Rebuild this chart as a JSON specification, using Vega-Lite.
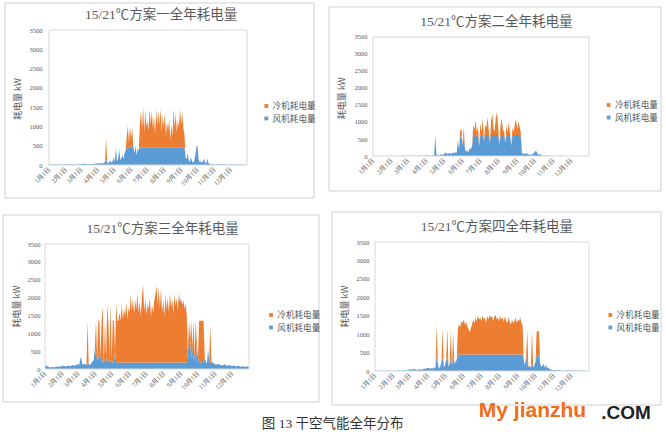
{
"$schema": "https://vega.github.io/schema/vega-lite/v6.json",
"background": "white",
"padding": {"left": 2, "top": 2, "right": 0, "bottom": 0},
"datasets": {
"p1": [{"d":1,"f":10,"c":0},{"d":8,"f":15,"c":0},{"d":15,"f":10,"c":0},{"d":22,"f":12,"c":0},{"d":29,"f":15,"c":0},{"d":36,"f":18,"c":0},{"d":43,"f":12,"c":0},{"d":50,"f":15,"c":0},{"d":57,"f":20,"c":0},{"d":64,"f":30,"c":0},{"d":71,"f":25,"c":0},{"d":78,"f":20,"c":0},{"d":85,"f":30,"c":0},{"d":92,"f":45,"c":0},{"d":96,"f":40,"c":0},
{"d":100,"f":60,"c":0},{"d":102,"f":40,"c":0},{"d":104,"f":90,"c":0},{"d":106,"f":150,"c":550},{"d":108,"f":60,"c":0},{"d":110,"f":50,"c":0},{"d":112,"f":80,"c":0},{"d":114,"f":120,"c":0},{"d":116,"f":60,"c":0},{"d":118,"f":100,"c":0},{"d":120,"f":200,"c":0},{"d":122,"f":80,"c":0},{"d":124,"f":450,"c":0},{"d":126,"f":100,"c":0},{"d":128,"f":150,"c":0},{"d":130,"f":420,"c":0},{"d":132,"f":120,"c":0},{"d":134,"f":180,"c":0},{"d":136,"f":250,"c":0},{"d":138,"f":150,"c":0},{"d":140,"f":300,"c":0},{"d":142,"f":380,"c":0},{"d":144,"f":450,"c":300},{"d":146,"f":420,"c":600},{"d":148,"f":480,"c":100},{"d":150,"f":500,"c":500},{"d":152,"f":450,"c":250},{"d":154,"f":500,"c":450},{"d":156,"f":480,"c":0},{"d":158,"f":300,"c":0},{"d":160,"f":500,"c":0},{"d":162,"f":250,"c":0},{"d":164,"f":420,"c":0},{"d":166,"f":380,"c":0},
{"d":168,"f":450,"c":600},{"d":170,"f":450,"c":930},{"d":172,"f":450,"c":500},{"d":174,"f":450,"c":1050},{"d":176,"f":450,"c":400},{"d":178,"f":450,"c":950},{"d":180,"f":450,"c":550},{"d":182,"f":450,"c":700},{"d":184,"f":450,"c":450},{"d":186,"f":450,"c":1000},{"d":188,"f":450,"c":600},{"d":190,"f":450,"c":950},{"d":192,"f":450,"c":500},{"d":194,"f":450,"c":800},{"d":196,"f":450,"c":350},{"d":198,"f":450,"c":1000},{"d":200,"f":450,"c":550},{"d":202,"f":450,"c":950},{"d":204,"f":450,"c":600},{"d":206,"f":450,"c":1000},{"d":208,"f":450,"c":400},{"d":210,"f":450,"c":850},{"d":212,"f":450,"c":500},{"d":214,"f":450,"c":900},{"d":216,"f":450,"c":300},{"d":218,"f":450,"c":650},{"d":220,"f":450,"c":450},{"d":222,"f":450,"c":750},{"d":224,"f":450,"c":200},{"d":226,"f":450,"c":600},{"d":228,"f":450,"c":300},{"d":230,"f":450,"c":1000},{"d":232,"f":450,"c":500},{"d":234,"f":450,"c":900},{"d":236,"f":450,"c":400},{"d":238,"f":450,"c":700},{"d":240,"f":450,"c":550},{"d":242,"f":450,"c":1000},{"d":244,"f":450,"c":600},{"d":246,"f":450,"c":900},{"d":248,"f":450,"c":500},{"d":250,"f":450,"c":350},
{"d":252,"f":200,"c":0},{"d":254,"f":150,"c":0},{"d":256,"f":300,"c":0},{"d":258,"f":120,"c":0},{"d":260,"f":80,"c":0},{"d":262,"f":200,"c":0},{"d":264,"f":100,"c":0},{"d":266,"f":60,"c":0},{"d":268,"f":120,"c":0},{"d":270,"f":250,"c":0},{"d":272,"f":480,"c":20},{"d":274,"f":460,"c":30},{"d":276,"f":150,"c":0},{"d":278,"f":80,"c":0},{"d":280,"f":100,"c":0},{"d":282,"f":60,"c":0},{"d":284,"f":90,"c":0},{"d":286,"f":170,"c":0},{"d":288,"f":60,"c":0},{"d":290,"f":40,"c":0},{"d":292,"f":170,"c":0},{"d":294,"f":50,"c":0},{"d":296,"f":30,"c":0},{"d":298,"f":20,"c":0},{"d":305,"f":15,"c":0},{"d":312,"f":20,"c":0},{"d":319,"f":15,"c":0},{"d":326,"f":12,"c":0},{"d":333,"f":15,"c":0},{"d":340,"f":10,"c":0},{"d":347,"f":12,"c":0},{"d":354,"f":10,"c":0},{"d":361,"f":8,"c":0},{"d":365,"f":5,"c":0}],
"p2": [{"d":1,"f":5,"c":0},{"d":8,"f":3,"c":0},{"d":15,"f":5,"c":0},{"d":22,"f":3,"c":0},{"d":29,"f":5,"c":0},{"d":36,"f":5,"c":0},{"d":43,"f":3,"c":0},{"d":50,"f":5,"c":0},{"d":57,"f":5,"c":0},{"d":64,"f":8,"c":0},{"d":71,"f":10,"c":0},{"d":78,"f":8,"c":0},{"d":85,"f":10,"c":0},{"d":92,"f":15,"c":0},{"d":98,"f":10,"c":0},
{"d":100,"f":10,"c":0},{"d":102,"f":20,"c":0},{"d":104,"f":15,"c":0},{"d":106,"f":600,"c":0},{"d":108,"f":20,"c":0},{"d":110,"f":30,"c":0},{"d":112,"f":15,"c":0},{"d":114,"f":40,"c":0},{"d":116,"f":60,"c":0},{"d":118,"f":30,"c":0},{"d":120,"f":50,"c":0},{"d":122,"f":80,"c":0},{"d":124,"f":100,"c":0},{"d":126,"f":50,"c":0},{"d":128,"f":70,"c":0},{"d":130,"f":90,"c":0},{"d":132,"f":60,"c":0},{"d":134,"f":80,"c":0},{"d":136,"f":100,"c":0},{"d":138,"f":70,"c":0},{"d":140,"f":120,"c":0},{"d":142,"f":90,"c":0},{"d":144,"f":450,"c":0},{"d":146,"f":200,"c":0},{"d":148,"f":550,"c":200},{"d":150,"f":600,"c":200},{"d":152,"f":300,"c":0},{"d":154,"f":600,"c":250},{"d":156,"f":200,"c":0},{"d":158,"f":120,"c":0},{"d":160,"f":180,"c":0},{"d":162,"f":100,"c":0},{"d":164,"f":250,"c":0},{"d":166,"f":200,"c":0},{"d":168,"f":300,"c":0},
{"d":170,"f":620,"c":300},{"d":172,"f":620,"c":150},{"d":174,"f":620,"c":430},{"d":176,"f":600,"c":100},{"d":178,"f":620,"c":250},{"d":180,"f":300,"c":0},{"d":182,"f":620,"c":350},{"d":184,"f":620,"c":100},{"d":186,"f":620,"c":480},{"d":188,"f":450,"c":0},{"d":190,"f":620,"c":300},{"d":192,"f":620,"c":200},{"d":194,"f":620,"c":530},{"d":196,"f":620,"c":150},{"d":198,"f":400,"c":0},{"d":200,"f":620,"c":400},{"d":202,"f":620,"c":630},{"d":204,"f":620,"c":200},{"d":206,"f":620,"c":100},{"d":208,"f":620,"c":500},{"d":210,"f":620,"c":680},{"d":212,"f":620,"c":200},{"d":214,"f":350,"c":0},{"d":216,"f":620,"c":300},{"d":218,"f":620,"c":480},{"d":220,"f":620,"c":150},{"d":222,"f":620,"c":100},{"d":224,"f":400,"c":0},{"d":226,"f":620,"c":280},{"d":228,"f":620,"c":100},{"d":230,"f":620,"c":380},{"d":232,"f":620,"c":50},{"d":234,"f":300,"c":0},{"d":236,"f":620,"c":200},{"d":238,"f":620,"c":100},{"d":240,"f":620,"c":300},{"d":242,"f":620,"c":480},{"d":244,"f":620,"c":150},{"d":246,"f":620,"c":380},{"d":248,"f":620,"c":250},{"d":250,"f":600,"c":100},
{"d":252,"f":100,"c":0},{"d":254,"f":60,"c":0},{"d":256,"f":80,"c":0},{"d":258,"f":50,"c":0},{"d":260,"f":90,"c":0},{"d":262,"f":60,"c":0},{"d":264,"f":40,"c":0},{"d":266,"f":50,"c":0},{"d":268,"f":30,"c":0},{"d":270,"f":60,"c":0},{"d":272,"f":80,"c":0},{"d":274,"f":140,"c":0},{"d":276,"f":150,"c":0},{"d":278,"f":70,"c":0},{"d":280,"f":40,"c":0},{"d":282,"f":60,"c":0},{"d":284,"f":30,"c":0},{"d":286,"f":20,"c":0},{"d":288,"f":10,"c":0},{"d":295,"f":5,"c":0},{"d":302,"f":5,"c":0},{"d":309,"f":3,"c":0},{"d":316,"f":5,"c":0},{"d":323,"f":3,"c":0},{"d":330,"f":3,"c":0},{"d":337,"f":3,"c":0},{"d":344,"f":3,"c":0},{"d":351,"f":3,"c":0},{"d":358,"f":3,"c":0},{"d":365,"f":3,"c":0}],
"p3": [{"d":1,"f":70,"c":0},{"d":4,"f":100,"c":0},{"d":7,"f":60,"c":0},{"d":10,"f":40,"c":0},{"d":14,"f":55,"c":0},{"d":18,"f":50,"c":0},{"d":22,"f":70,"c":0},{"d":26,"f":60,"c":0},{"d":30,"f":80,"c":0},{"d":34,"f":90,"c":0},{"d":38,"f":70,"c":0},{"d":42,"f":100,"c":0},{"d":46,"f":80,"c":0},{"d":50,"f":110,"c":0},{"d":54,"f":90,"c":0},{"d":58,"f":130,"c":0},{"d":62,"f":120,"c":0},{"d":65,"f":350,"c":0},{"d":68,"f":120,"c":0},{"d":72,"f":150,"c":0},{"d":75,"f":110,"c":0},{"d":77,"f":150,"c":1190},{"d":79,"f":130,"c":0},{"d":82,"f":120,"c":0},{"d":85,"f":200,"c":0},{"d":88,"f":250,"c":0},
{"d":90,"f":600,"c":0},{"d":92,"f":400,"c":950},{"d":94,"f":300,"c":0},{"d":96,"f":250,"c":1100},{"d":98,"f":500,"c":850},{"d":100,"f":350,"c":0},{"d":102,"f":200,"c":1150},{"d":104,"f":250,"c":1500},{"d":106,"f":180,"c":0},{"d":108,"f":200,"c":1150},{"d":110,"f":300,"c":0},{"d":112,"f":200,"c":1600},{"d":114,"f":180,"c":1170},{"d":116,"f":400,"c":0},{"d":118,"f":180,"c":1650},{"d":120,"f":250,"c":0},{"d":122,"f":180,"c":1170},{"d":124,"f":180,"c":1170},{"d":126,"f":500,"c":0},{"d":128,"f":180,"c":1650},{"d":130,"f":180,"c":1170},
{"d":132,"f":180,"c":1170},{"d":134,"f":180,"c":1400},{"d":136,"f":180,"c":1170},{"d":138,"f":180,"c":1650},{"d":140,"f":180,"c":1200},{"d":142,"f":180,"c":1500},{"d":144,"f":180,"c":1300},{"d":146,"f":180,"c":1700},{"d":148,"f":180,"c":1200},{"d":150,"f":180,"c":1550},{"d":152,"f":180,"c":1400},{"d":154,"f":180,"c":1900},{"d":156,"f":180,"c":1450},{"d":158,"f":180,"c":1800},{"d":160,"f":180,"c":1350},{"d":162,"f":180,"c":1750},{"d":164,"f":180,"c":1500},{"d":166,"f":180,"c":1950},{"d":168,"f":180,"c":1400},{"d":170,"f":180,"c":1700},{"d":172,"f":180,"c":1300},{"d":174,"f":180,"c":1850},{"d":176,"f":180,"c":2200},{"d":178,"f":180,"c":1450},{"d":180,"f":180,"c":1750},{"d":182,"f":180,"c":1350},{"d":184,"f":180,"c":1650},{"d":186,"f":180,"c":1500},{"d":188,"f":180,"c":1800},{"d":190,"f":180,"c":1300},{"d":192,"f":180,"c":1600},{"d":194,"f":180,"c":1400},{"d":196,"f":180,"c":1750},{"d":198,"f":180,"c":1900},{"d":200,"f":180,"c":2150},{"d":202,"f":180,"c":1600},{"d":204,"f":180,"c":2100},{"d":206,"f":180,"c":1500},{"d":208,"f":180,"c":2100},{"d":210,"f":180,"c":1400},{"d":212,"f":180,"c":1750},{"d":214,"f":180,"c":1300},{"d":216,"f":180,"c":1900},{"d":218,"f":180,"c":1500},{"d":220,"f":180,"c":1800},{"d":222,"f":180,"c":1400},{"d":224,"f":180,"c":1950},{"d":226,"f":180,"c":1550},{"d":228,"f":180,"c":1800},{"d":230,"f":180,"c":1350},{"d":232,"f":180,"c":1900},{"d":234,"f":180,"c":1600},{"d":236,"f":180,"c":1800},{"d":238,"f":180,"c":1450},{"d":240,"f":180,"c":1950},{"d":242,"f":180,"c":1700},{"d":244,"f":180,"c":1800},{"d":246,"f":180,"c":1600},{"d":248,"f":180,"c":1750},{"d":250,"f":180,"c":1500},{"d":252,"f":180,"c":1650},{"d":254,"f":180,"c":1300},
{"d":256,"f":500,"c":0},{"d":258,"f":700,"c":650},{"d":260,"f":800,"c":0},{"d":262,"f":300,"c":1050},{"d":264,"f":600,"c":0},{"d":266,"f":250,"c":1100},{"d":268,"f":400,"c":0},{"d":270,"f":200,"c":1150},{"d":272,"f":700,"c":0},{"d":274,"f":300,"c":0},{"d":276,"f":200,"c":1150},{"d":278,"f":180,"c":1170},{"d":280,"f":180,"c":1170},{"d":282,"f":200,"c":1150},{"d":284,"f":180,"c":1170},{"d":286,"f":300,"c":0},{"d":288,"f":200,"c":0},{"d":290,"f":150,"c":0},{"d":292,"f":550,"c":0},{"d":294,"f":200,"c":0},{"d":296,"f":150,"c":1100},{"d":298,"f":200,"c":0},{"d":300,"f":180,"c":0},{"d":303,"f":150,"c":0},{"d":306,"f":120,"c":0},{"d":310,"f":140,"c":0},{"d":314,"f":110,"c":0},{"d":318,"f":100,"c":0},{"d":322,"f":130,"c":0},{"d":326,"f":90,"c":0},{"d":330,"f":110,"c":0},{"d":334,"f":80,"c":0},{"d":338,"f":100,"c":0},{"d":342,"f":70,"c":0},{"d":346,"f":90,"c":0},{"d":350,"f":60,"c":0},{"d":354,"f":80,"c":0},{"d":358,"f":60,"c":0},{"d":362,"f":70,"c":0},{"d":365,"f":60,"c":0}],
"p4": [{"d":1,"f":5,"c":0},{"d":8,"f":8,"c":0},{"d":15,"f":5,"c":0},{"d":22,"f":10,"c":0},{"d":29,"f":8,"c":0},{"d":36,"f":10,"c":0},{"d":43,"f":12,"c":0},{"d":50,"f":15,"c":0},{"d":57,"f":30,"c":0},{"d":61,"f":50,"c":0},{"d":64,"f":40,"c":0},{"d":68,"f":55,"c":0},{"d":72,"f":30,"c":0},{"d":76,"f":45,"c":0},{"d":80,"f":35,"c":0},{"d":84,"f":60,"c":0},{"d":88,"f":70,"c":0},{"d":92,"f":90,"c":0},{"d":95,"f":60,"c":0},{"d":98,"f":80,"c":0},
{"d":100,"f":60,"c":0},{"d":102,"f":100,"c":0},{"d":104,"f":80,"c":0},{"d":106,"f":420,"c":850},{"d":108,"f":200,"c":0},{"d":110,"f":60,"c":0},{"d":112,"f":120,"c":0},{"d":114,"f":250,"c":0},{"d":116,"f":350,"c":800},{"d":118,"f":100,"c":0},{"d":120,"f":150,"c":0},{"d":122,"f":300,"c":0},{"d":124,"f":380,"c":770},{"d":126,"f":120,"c":0},{"d":128,"f":200,"c":0},{"d":130,"f":350,"c":750},{"d":132,"f":150,"c":0},{"d":134,"f":400,"c":650},{"d":136,"f":200,"c":0},{"d":138,"f":250,"c":0},{"d":140,"f":300,"c":0},
{"d":142,"f":450,"c":700},{"d":144,"f":450,"c":800},{"d":146,"f":450,"c":750},{"d":148,"f":450,"c":900},{"d":150,"f":450,"c":850},{"d":152,"f":450,"c":950},{"d":154,"f":450,"c":800},{"d":156,"f":450,"c":900},{"d":158,"f":450,"c":750},{"d":160,"f":450,"c":700},{"d":162,"f":450,"c":600},{"d":164,"f":450,"c":700},{"d":166,"f":450,"c":800},{"d":168,"f":450,"c":950},{"d":170,"f":450,"c":850},{"d":172,"f":450,"c":1000},{"d":174,"f":450,"c":900},{"d":176,"f":450,"c":1050},{"d":178,"f":450,"c":950},{"d":180,"f":450,"c":1000},{"d":182,"f":450,"c":900},{"d":184,"f":450,"c":1050},{"d":186,"f":450,"c":950},{"d":188,"f":450,"c":1000},{"d":190,"f":450,"c":850},{"d":192,"f":450,"c":1050},{"d":194,"f":450,"c":950},{"d":196,"f":450,"c":1070},{"d":198,"f":450,"c":1000},{"d":200,"f":450,"c":1050},{"d":202,"f":450,"c":900},{"d":204,"f":450,"c":1000},{"d":206,"f":450,"c":1080},{"d":208,"f":450,"c":950},{"d":210,"f":450,"c":1000},{"d":212,"f":450,"c":900},{"d":214,"f":450,"c":1050},{"d":216,"f":450,"c":950},{"d":218,"f":450,"c":1000},{"d":220,"f":450,"c":880},{"d":222,"f":450,"c":1050},{"d":224,"f":450,"c":900},{"d":226,"f":450,"c":850},{"d":228,"f":450,"c":1000},{"d":230,"f":450,"c":900},{"d":232,"f":450,"c":800},{"d":234,"f":450,"c":950},{"d":236,"f":450,"c":850},{"d":238,"f":450,"c":900},{"d":240,"f":450,"c":1000},{"d":242,"f":450,"c":850},{"d":244,"f":450,"c":950},{"d":246,"f":450,"c":900},{"d":248,"f":450,"c":1000},{"d":250,"f":450,"c":850},{"d":252,"f":450,"c":800},
{"d":254,"f":300,"c":0},{"d":256,"f":150,"c":0},{"d":258,"f":400,"c":0},{"d":260,"f":200,"c":900},{"d":262,"f":100,"c":0},{"d":264,"f":150,"c":0},{"d":266,"f":80,"c":0},{"d":268,"f":200,"c":890},{"d":270,"f":100,"c":0},{"d":272,"f":150,"c":0},{"d":274,"f":250,"c":0},{"d":276,"f":400,"c":680},{"d":278,"f":450,"c":630},{"d":280,"f":450,"c":630},{"d":282,"f":200,"c":0},{"d":284,"f":100,"c":0},{"d":286,"f":150,"c":0},{"d":288,"f":200,"c":0},{"d":290,"f":80,"c":0},{"d":292,"f":170,"c":0},{"d":294,"f":60,"c":0},{"d":296,"f":100,"c":0},{"d":298,"f":50,"c":0},{"d":300,"f":40,"c":0},{"d":303,"f":30,"c":0},{"d":307,"f":25,"c":0},{"d":312,"f":20,"c":0},{"d":320,"f":15,"c":0},{"d":330,"f":12,"c":0},{"d":340,"f":15,"c":0},{"d":350,"f":10,"c":0},{"d":358,"f":8,"c":0},{"d":365,"f":5,"c":0}]
},
"columns": 2,
"spacing": {"row": 77, "column": 124},
"bounds": "flush",
"resolve": {"scale": {"color": "independent"}, "legend": {"color": "independent"}},
"concat": [
  {"width": 202, "height": 135,
   "resolve": {"axis": {"x": "independent", "y": "independent"}},
   "layer": [
    {"data": {"values": [{}]}, "mark": {"type": "rect", "fill": "transparent", "stroke": "#cfcfcf", "strokeWidth": 1},
     "encoding": {"x": {"datum": -79.89, "type": "quantitative", "scale": {"domain": [-6.354, 365], "nice": false, "zero": false}, "axis": null}, "x2": {"datum": 488.17}, "y": {"datum": 4200, "type": "quantitative", "scale": {"domain": [0, 3500], "nice": false}, "axis": null}, "y2": {"datum": -855.6}}},
    {"data": {"name": "p1"}, "transform": [{"fold": ["f", "c"], "as": ["s", "v"]}], "mark": {"type": "area", "opacity": 1},
     "encoding": {
      "x": {"field": "d", "type": "quantitative", "scale": {"domain": [-6.354, 365], "nice": false, "zero": false}, "axis": {"orient": "bottom", "values": [1,32,60,91,121,152,182,213,244,274,305,335], "labelExpr": "(indexof([1,32,60,91,121,152,182,213,244,274,305,335], datum.value) + 1) + '月1日'", "labelAngle": -45, "labelAlign": "right", "labelBaseline": "middle", "labelPadding": 3, "labelOverlap": false, "title": null}},
      "y": {"field": "v", "type": "quantitative", "stack": "zero", "scale": {"domain": [0, 3500], "nice": false}, "axis": {"orient": "left", "values": [0,500,1000,1500,2000,2500,3000,3500], "format": "d", "labelPadding": 3, "labelOverlap": false, "title": "耗电量 kW", "titleX": -28, "titleY": 68.5, "titleBaseline": "middle", "titleFontSize": 9, "titleFont": "Noto Sans CJK SC"}},
      "color": {"field": "s", "type": "nominal", "scale": {"domain": ["c", "f"], "range": ["#ED7D31", "#5B9BD5"]}, "legend": {"orient": "none", "legendX": 217, "legendY": 71.7, "title": null, "labelExpr": "datum.label == 'c' ? '冷机耗电量' : '风机耗电量'"}},
      "order": {"field": "s", "sort": "descending"}}},
    {"data": {"values": [{}]}, "mark": {"type": "rect", "fill": "transparent", "stroke": "#d9d9d9", "strokeWidth": 1},
     "encoding": {"x": {"datum": 1, "type": "quantitative", "scale": {"domain": [-6.354, 365], "nice": false, "zero": false}, "axis": null}, "x2": {"datum": 365}, "y": {"datum": 0, "type": "quantitative", "scale": {"domain": [0, 3500], "nice": false}, "axis": null}, "y2": {"datum": 3500}}},
    {"data": {"values": [{}]}, "mark": {"type": "text", "text": "15/21℃方案一全年耗电量", "font": "Liberation Serif, Noto Sans CJK SC", "fontSize": 13.5, "color": "#595959", "align": "center", "baseline": "middle"},
     "encoding": {"x": {"datum": 206.9, "type": "quantitative", "scale": {"domain": [-6.354, 365], "nice": false, "zero": false}, "axis": null}, "y": {"datum": 3888.9, "type": "quantitative", "scale": {"domain": [0, 3500], "nice": false}, "axis": null}}}
   ]},
  {"width": 216, "height": 126,
   "resolve": {"axis": {"x": "independent", "y": "independent"}},
   "layer": [
    {"data": {"values": [{}]}, "mark": {"type": "rect", "fill": "transparent", "stroke": "#cfcfcf", "strokeWidth": 1},
     "encoding": {"x": {"datum": -73.15, "type": "quantitative", "scale": {"domain": [1, 365], "nice": false, "zero": false}, "axis": null}, "x2": {"datum": 486.33}, "y": {"datum": 4382.4, "type": "quantitative", "scale": {"domain": [0, 3705.88], "nice": false}, "axis": null}, "y2": {"datum": -1029.4}}},
    {"data": {"name": "p2"}, "transform": [{"fold": ["f", "c"], "as": ["s", "v"]}], "mark": {"type": "area", "opacity": 1},
     "encoding": {
      "x": {"field": "d", "type": "quantitative", "scale": {"domain": [1, 365], "nice": false, "zero": false}, "axis": {"orient": "bottom", "values": [1,32,60,91,121,152,182,213,244,274,305,335], "labelExpr": "(indexof([1,32,60,91,121,152,182,213,244,274,305,335], datum.value) + 1) + '月1日'", "labelAngle": -45, "labelAlign": "right", "labelBaseline": "middle", "labelPadding": 3, "labelOverlap": false, "title": null}},
      "y": {"field": "v", "type": "quantitative", "stack": "zero", "scale": {"domain": [0, 3705.88], "nice": false}, "axis": {"orient": "left", "values": [0,500,1000,1500,2000,2500,3000,3500], "format": "d", "labelPadding": 6, "labelOverlap": false, "title": "耗电量 kW", "titleX": -32, "titleY": 67.7, "titleBaseline": "middle", "titleFontSize": 9, "titleFont": "Noto Sans CJK SC"}},
      "color": {"field": "s", "type": "nominal", "scale": {"domain": ["c", "f"], "range": ["#ED7D31", "#5B9BD5"]}, "legend": {"orient": "none", "legendX": 231.3, "legendY": 70.7, "title": null, "labelExpr": "datum.label == 'c' ? '冷机耗电量' : '风机耗电量'"}},
      "order": {"field": "s", "sort": "descending"}}},
    {"data": {"values": [{}]}, "mark": {"type": "rect", "fill": "transparent", "stroke": "#d9d9d9", "strokeWidth": 1},
     "encoding": {"x": {"datum": 1, "type": "quantitative", "scale": {"domain": [1, 365], "nice": false, "zero": false}, "axis": null}, "x2": {"datum": 365}, "y": {"datum": 0, "type": "quantitative", "scale": {"domain": [0, 3705.88], "nice": false}, "axis": null}, "y2": {"datum": 3500}}},
    {"data": {"values": [{}]}, "mark": {"type": "text", "text": "15/21℃方案二全年耗电量", "font": "Liberation Serif, Noto Sans CJK SC", "fontSize": 13.5, "color": "#595959", "align": "center", "baseline": "middle"},
     "encoding": {"x": {"datum": 209.1, "type": "quantitative", "scale": {"domain": [1, 365], "nice": false, "zero": false}, "axis": null}, "y": {"datum": 3950, "type": "quantitative", "scale": {"domain": [0, 3705.88], "nice": false}, "axis": null}}}
   ]},
  {"width": 204, "height": 127,
   "resolve": {"axis": {"x": "independent", "y": "independent"}},
   "layer": [
    {"data": {"values": [{}]}, "mark": {"type": "rect", "fill": "transparent", "stroke": "#cfcfcf", "strokeWidth": 1},
     "encoding": {"x": {"datum": -73.94, "type": "quantitative", "scale": {"domain": [1, 365], "nice": false, "zero": false}, "axis": null}, "x2": {"datum": 489.9}, "y": {"datum": 4312, "type": "quantitative", "scale": {"domain": [0, 3556], "nice": false}, "axis": null}, "y2": {"datum": -924}}},
    {"data": {"name": "p3"}, "transform": [{"fold": ["f", "c"], "as": ["s", "v"]}], "mark": {"type": "area", "opacity": 1},
     "encoding": {
      "x": {"field": "d", "type": "quantitative", "scale": {"domain": [1, 365], "nice": false, "zero": false}, "axis": {"orient": "bottom", "values": [1,32,60,91,121,152,182,213,244,274,305,335], "labelExpr": "(indexof([1,32,60,91,121,152,182,213,244,274,305,335], datum.value) + 1) + '月1日'", "labelAngle": -45, "labelAlign": "right", "labelBaseline": "middle", "labelPadding": 3, "labelOverlap": false, "title": null}},
      "y": {"field": "v", "type": "quantitative", "stack": "zero", "scale": {"domain": [0, 3556], "nice": false}, "axis": {"orient": "left", "values": [0,500,1000,1500,2000,2500,3000,3500], "format": "d", "labelPadding": 5, "labelOverlap": false, "title": "耗电量 kW", "titleX": -29, "titleY": 64, "titleBaseline": "middle", "titleFontSize": 9, "titleFont": "Noto Sans CJK SC"}},
      "color": {"field": "s", "type": "nominal", "scale": {"domain": ["c", "f"], "range": ["#ED7D31", "#5B9BD5"]}, "legend": {"orient": "none", "legendX": 221.7, "legendY": 68.7, "title": null, "labelExpr": "datum.label == 'c' ? '冷机耗电量' : '风机耗电量'"}},
      "order": {"field": "s", "sort": "descending"}}},
    {"data": {"values": [{}]}, "mark": {"type": "rect", "fill": "transparent", "stroke": "#d9d9d9", "strokeWidth": 1},
     "encoding": {"x": {"datum": 1, "type": "quantitative", "scale": {"domain": [1, 365], "nice": false, "zero": false}, "axis": null}, "x2": {"datum": 365}, "y": {"datum": 0, "type": "quantitative", "scale": {"domain": [0, 3556], "nice": false}, "axis": null}, "y2": {"datum": 3500}}},
    {"data": {"values": [{}]}, "mark": {"type": "text", "text": "15/21℃方案三全年耗电量", "font": "Liberation Serif, Noto Sans CJK SC", "fontSize": 13.5, "color": "#595959", "align": "center", "baseline": "middle"},
     "encoding": {"x": {"datum": 211.0, "type": "quantitative", "scale": {"domain": [1, 365], "nice": false, "zero": false}, "axis": null}, "y": {"datum": 3928.4, "type": "quantitative", "scale": {"domain": [0, 3556], "nice": false}, "axis": null}}}
   ]},
  {"width": 216, "height": 129,
   "resolve": {"axis": {"x": "independent", "y": "independent"}},
   "layer": [
    {"data": {"values": [{}]}, "mark": {"type": "rect", "fill": "transparent", "stroke": "#cfcfcf", "strokeWidth": 1},
     "encoding": {"x": {"datum": -72.14, "type": "quantitative", "scale": {"domain": [-2.402, 365], "nice": false, "zero": false}, "axis": null}, "x2": {"datum": 487.47}, "y": {"datum": 4314, "type": "quantitative", "scale": {"domain": [0, 3500], "nice": false}, "axis": null}, "y2": {"datum": -922.5}}},
    {"data": {"name": "p4"}, "transform": [{"fold": ["f", "c"], "as": ["s", "v"]}], "mark": {"type": "area", "opacity": 1},
     "encoding": {
      "x": {"field": "d", "type": "quantitative", "scale": {"domain": [-2.402, 365], "nice": false, "zero": false}, "axis": {"orient": "bottom", "values": [1,32,60,91,121,152,182,213,244,274,305,335], "labelExpr": "(indexof([1,32,60,91,121,152,182,213,244,274,305,335], datum.value) + 1) + '月1日'", "labelAngle": -45, "labelAlign": "right", "labelBaseline": "middle", "labelPadding": 3, "labelOverlap": false, "title": null}},
      "y": {"field": "v", "type": "quantitative", "stack": "zero", "scale": {"domain": [0, 3500], "nice": false}, "axis": {"orient": "left", "values": [0,500,1000,1500,2000,2500,3000,3500], "format": "d", "labelPadding": 4, "labelOverlap": false, "title": "耗电量 kW", "titleX": -29, "titleY": 64, "titleBaseline": "middle", "titleFontSize": 9, "titleFont": "Noto Sans CJK SC"}},
      "color": {"field": "s", "type": "nominal", "scale": {"domain": ["c", "f"], "range": ["#ED7D31", "#5B9BD5"]}, "legend": {"orient": "none", "legendX": 233, "legendY": 68.7, "title": null, "labelExpr": "datum.label == 'c' ? '冷机耗电量' : '风机耗电量'"}},
      "order": {"field": "s", "sort": "descending"}}},
    {"data": {"values": [{}]}, "mark": {"type": "rect", "fill": "transparent", "stroke": "#d9d9d9", "strokeWidth": 1},
     "encoding": {"x": {"datum": 1, "type": "quantitative", "scale": {"domain": [-2.402, 365], "nice": false, "zero": false}, "axis": null}, "x2": {"datum": 365}, "y": {"datum": 0, "type": "quantitative", "scale": {"domain": [0, 3500], "nice": false}, "axis": null}, "y2": {"datum": 3500}}},
    {"data": {"values": [{}]}, "mark": {"type": "text", "text": "15/21℃方案四全年耗电量", "font": "Liberation Serif, Noto Sans CJK SC", "fontSize": 13.5, "color": "#595959", "align": "center", "baseline": "middle"},
     "encoding": {"x": {"datum": 208.5, "type": "quantitative", "scale": {"domain": [-2.402, 365], "nice": false, "zero": false}, "axis": null}, "y": {"datum": 3915.1, "type": "quantitative", "scale": {"domain": [0, 3500], "nice": false}, "axis": null}}},
    {"data": {"values": [{}]}, "mark": {"type": "text", "text": "My jianzhu", "font": "Liberation Sans", "fontWeight": "bold", "fontSize": 21, "color": "#F26B1D", "align": "center", "baseline": "alphabetic"},
     "encoding": {"x": {"datum": 268.9, "type": "quantitative", "scale": {"domain": [-2.402, 365], "nice": false, "zero": false}, "axis": null}, "y": {"datum": -1248, "type": "quantitative", "scale": {"domain": [0, 3500], "nice": false}, "axis": null}}},
    {"data": {"values": [{}]}, "mark": {"type": "text", "text": ".COM", "font": "Liberation Sans", "fontWeight": "bold", "fontSize": 19, "color": "#222222", "align": "center", "baseline": "alphabetic"},
     "encoding": {"x": {"datum": 427.9, "type": "quantitative", "scale": {"domain": [-2.402, 365], "nice": false, "zero": false}, "axis": null}, "y": {"datum": -1302, "type": "quantitative", "scale": {"domain": [0, 3500], "nice": false}, "axis": null}}},
    {"data": {"values": [{}]}, "mark": {"type": "text", "text": "图 13 干空气能全年分布", "font": "Liberation Serif, Noto Sans CJK SC", "fontSize": 13.5, "color": "#333333", "align": "center", "baseline": "middle"},
     "encoding": {"x": {"datum": -70.95, "type": "quantitative", "scale": {"domain": [-2.402, 365], "nice": false, "zero": false}, "axis": null}, "y": {"datum": -1446.1, "type": "quantitative", "scale": {"domain": [0, 3500], "nice": false}, "axis": null}}}
   ]}
],
"config": {
 "view": {"stroke": null},
 "axis": {"grid": false, "ticks": false, "domain": false, "labelColor": "#595959", "labelFont": "Liberation Serif, Noto Sans CJK SC", "labelFontSize": 6.5, "titleColor": "#595959", "titleFontWeight": "normal", "labelFlush": false, "labelBound": false},
 "legend": {"padding": 0, "symbolType": "square", "symbolSize": 14, "symbolStrokeWidth": 0, "labelFontSize": 8.6, "labelFont": "Noto Sans CJK SC", "labelColor": "#595959", "rowPadding": 3.5, "labelOffset": 2}
}
}
